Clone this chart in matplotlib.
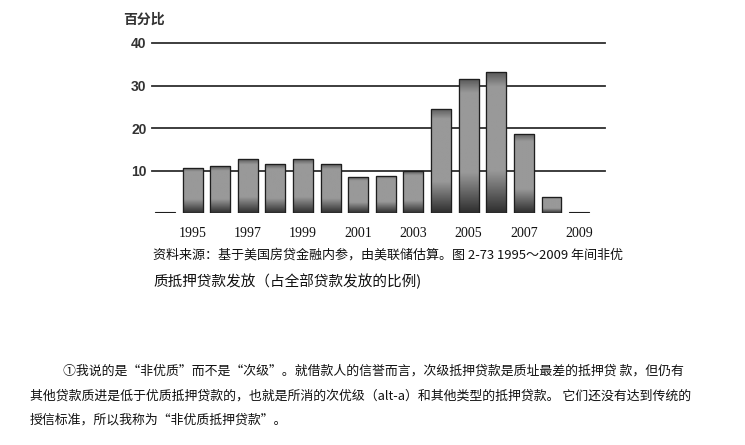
import matplotlib.pyplot as plt
import numpy as np
from matplotlib.patches import Rectangle

plt.rcParams['font.family'] = ['Noto Sans CJK SC', 'DejaVu Sans']

# share of non-prime mortgage originations, percent (1994 is only a stub)
years = [1994, 1995, 1996, 1997, 1998, 1999, 2000, 2001,
         2002, 2003, 2004, 2005, 2006, 2007, 2008, 2009]
shares = [0.3, 10.6, 11.0, 12.7, 11.5, 12.7, 11.5, 8.4,
          8.8, 9.8, 24.5, 31.5, 33.1, 18.7, 3.7, 0.2]
year_labels = [1995, 1997, 1999, 2001, 2003, 2005, 2007, 2009]
y_ticks = [10, 20, 30, 40]

caption = ["资料来源：基于美国房贷金融内参，由美联储估算。图 2-73 1995～2009 年间非优",
           "质抵押贷款发放（占全部贷款发放的比例)"]
footnote = ["①我说的是“非优质”而不是“次级”。就借款人的信誉而言，次级抵押贷款是质址最差的抵押贷 款，但仍有",
            "其他贷款质进是低于优质抵押贷款的，也就是所消的次优级（alt-a）和其他类型的抵押贷款。 它们还没有达到传统的",
            "授信标准，所以我称为“非优质抵押贷款”。"]

W, H = 745, 445
fig = plt.figure(figsize=(W / 100, H / 100), dpi=100)
fig.patch.set_facecolor('white')

left, right, top, base = 152, 605, 43, 213
ax = fig.add_axes([left / W, 1 - base / H, (right - left) / W, (base - top) / H])

# dark horizontal rules behind the bars
for v in y_ticks:
    ax.axhline(v, color='#2e2e2e', lw=1.3, zorder=1, clip_on=False)

# bars with a scanned-looking vertical shading (bottom -> top)
t = np.linspace(0, 1, 200)
grad = (0.18 + 0.42 * np.clip(t / 0.3, 0, 1)
        - 0.25 * np.clip((t - 0.9) / 0.1, 0, 1)).reshape(-1, 1)
bw = 0.72
bars = ax.bar(years, shares, width=bw, color='#777777',
              edgecolor='#1e1e1e', linewidth=0.8, zorder=2)
for b in bars:
    x0, y0 = b.get_x(), b.get_y()
    w, h = b.get_width(), b.get_height()
    if h < 1:
        b.set_facecolor('#333333')
        continue
    im = ax.imshow(grad, cmap='gray', vmin=0, vmax=1, aspect='auto',
                   interpolation='bilinear',
                   extent=[x0, x0 + w, y0, y0 + h], origin='lower', zorder=2.5)
    clip = Rectangle((x0, y0), w, h, transform=ax.transData, fill=False)
    im.set_clip_path(clip)
    ax.add_patch(Rectangle((x0, y0), w, h, fill=False, edgecolor='#1e1e1e',
                           lw=0.9, zorder=3))

ax.set_xlim(1994 - 0.47, 2009 + 0.94)
ax.set_ylim(0, 40)

for s in ax.spines.values():
    s.set_visible(False)
ax.set_xticks(year_labels)
ax.set_xticklabels([str(y) for y in year_labels], family='Liberation Serif',
                   fontsize=10, color='#111111')
ax.set_yticks(y_ticks)
ax.set_yticklabels([str(v) for v in y_ticks], fontweight='bold', fontsize=10,
                   family='Liberation Sans', color='#333333')
ax.tick_params(axis='both', length=0)
ax.tick_params(axis='x', pad=10)
ax.tick_params(axis='y', pad=4)

fig.text(123 / W, 1 - 20 / H, '百分比', fontsize=10, fontweight='bold',
         color='#333333', va='center', ha='left')

fig.text(153 / W, 1 - 255 / H, caption[0], fontsize=9.4, color='#111111',
         va='center', ha='left')
fig.text(153 / W, 1 - 281 / H, caption[1], fontsize=10.5, color='#111111',
         va='center', ha='left')

fig.text(63 / W, 1 - 371 / H, footnote[0], fontsize=9.3, color='#111111',
         va='center', ha='left')
fig.text(30 / W, 1 - 396 / H, footnote[1], fontsize=9.3, color='#111111',
         va='center', ha='left')
fig.text(30 / W, 1 - 420 / H, footnote[2], fontsize=9.3, color='#111111',
         va='center', ha='left')

fig.savefig('out.png', dpi=100, facecolor='white')
